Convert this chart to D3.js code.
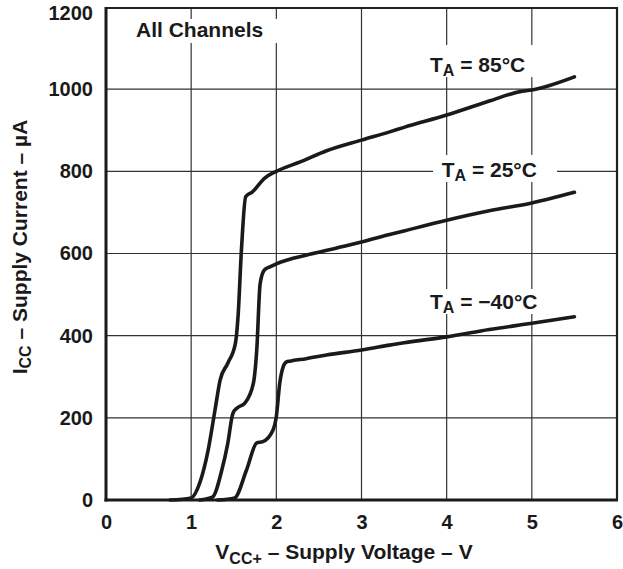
<!DOCTYPE html>
<html>
<head>
<meta charset="utf-8">
<script src="https://cdn.jsdelivr.net/npm/d3@7"></script>
<style>
  html, body { margin: 0; padding: 0; background: #fff; }
  svg { display: block; font-family: "Liberation Sans", Arial, Helvetica, sans-serif; font-weight: bold; }
</style>
</head>
<body>
<svg id="chart" width="623" height="569"></svg>
<script>
// ---- data ----
const xTicks = [0, 1, 2, 3, 4, 5, 6];
const yTicks = [0, 200, 400, 600, 800, 1000, 1200];

const v85 = [0.75, 1.0, 1.1, 1.2, 1.28, 1.34, 1.43, 1.52, 1.55, 1.59, 1.64, 1.72, 1.86, 2.0, 2.28, 2.59, 3.0, 3.33, 3.5, 4.0, 4.5, 4.86, 5.0, 5.5];
const i85 = [0, 5, 41, 122, 219, 292, 333, 382, 445, 608, 738, 750, 783, 800, 823, 850, 876, 896, 907, 937, 971, 994, 998, 1030];

const v25 = [1.1, 1.25, 1.36, 1.43, 1.49, 1.54, 1.63, 1.73, 1.77, 1.81, 1.86, 1.93, 2.0, 2.39, 2.7, 3.0, 3.33, 3.5, 4.0, 4.5, 5.0, 5.5];
const i25 = [0, 7, 73, 138, 211, 224, 236, 284, 365, 527, 560, 568, 575, 598, 613, 628, 646, 655, 681, 704, 723, 749];

const v40 = [1.31, 1.51, 1.65, 1.77, 1.84, 1.96, 2.0, 2.04, 2.08, 2.12, 2.16, 2.35, 2.59, 3.0, 3.33, 3.5, 4.0, 4.5, 5.0, 5.5];
const i40 = [0, 5, 73, 139, 142, 170, 203, 284, 324, 336, 338, 344, 353, 365, 377, 383, 397, 415, 430, 446];

const seriesNames = ["85°C", "25°C", "\u221240°C"];

// ---- layout ----
const svg = d3.select("#chart");
const pL = 106, pR = 617, pT = 7, pB = 500;
const x = d3.scaleLinear().domain([0, 6]).range([pL, pR]);
const y = d3.scaleLinear().domain([0, 1200]).range([pB, pT]);

// gridlines
const grid = svg.append("g").attr("stroke", "#333").attr("stroke-width", 1.2);
grid.selectAll("line.vx").data(xTicks.slice(1, -1)).join("line")
  .attr("x1", d => x(d)).attr("x2", d => x(d)).attr("y1", pT).attr("y2", pB);
grid.selectAll("line.hy").data(yTicks.slice(1, -1)).join("line")
  .attr("y1", d => y(d)).attr("y2", d => y(d)).attr("x1", pL).attr("x2", pR);

// label backgrounds (white boxes interrupting the grid)
const boxes = [
  [128, 19, 154, 24],
  [425, 45, 112, 32],
  [433, 155, 124, 27],
  [425, 289, 115, 25]
];
svg.append("g").selectAll("rect").data(boxes).join("rect")
  .attr("x", d => d[0]).attr("y", d => d[1]).attr("width", d => d[2]).attr("height", d => d[3])
  .attr("fill", "#fff");

// frame
svg.append("line").attr("x1", pL).attr("x2", pR).attr("y1", pT + 1).attr("y2", pT + 1)
  .attr("stroke", "#222").attr("stroke-width", 2.2);
svg.append("line").attr("x1", pR).attr("x2", pR).attr("y1", pT).attr("y2", pB)
  .attr("stroke", "#222").attr("stroke-width", 2.2);

// curves
const line = d3.line().x(d => x(d[0])).y(d => y(d[1])).curve(d3.curveMonotoneX);
const series = [d3.zip(v85, i85), d3.zip(v25, i25), d3.zip(v40, i40)];
svg.append("g").selectAll("path").data(series).join("path")
  .attr("d", line).attr("fill", "none").attr("stroke", "#1a1a1a")
  .attr("stroke-width", 3.6).attr("stroke-linejoin", "round").attr("stroke-linecap", "round");

// axes
const xAxis = svg.append("g").attr("transform", `translate(0,${pB})`)
  .call(d3.axisBottom(x).tickValues(xTicks).tickSize(0).tickPadding(15).tickFormat(d3.format("d")));
xAxis.select(".domain").remove();
xAxis.selectAll("text").attr("font-size", 20).attr("font-weight", "bold").attr("fill", "#1a1a1a")
  .attr("font-family", "Liberation Sans, Arial, sans-serif");

const yAxis = svg.append("g").attr("transform", `translate(${pL},0)`)
  .call(d3.axisLeft(y).tickValues(yTicks).tickSize(0).tickPadding(13).tickFormat(d3.format("d")));
yAxis.select(".domain").remove();
yAxis.selectAll("text").attr("font-size", 20).attr("font-weight", "bold").attr("fill", "#1a1a1a")
  .attr("font-family", "Liberation Sans, Arial, sans-serif")
  .filter(d => d === 1200).attr("dy", "0.62em");

// thick left & bottom axis lines
svg.append("line").attr("x1", pL).attr("x2", pL).attr("y1", pT).attr("y2", pB + 1.5)
  .attr("stroke", "#1a1a1a").attr("stroke-width", 3);
svg.append("line").attr("x1", pL - 1.5).attr("x2", pR + 1).attr("y1", pB).attr("y2", pB)
  .attr("stroke", "#1a1a1a").attr("stroke-width", 3);

// annotation text
const txt = svg.append("g").attr("fill", "#1a1a1a").attr("font-size", 21);
txt.append("text").attr("x", 136).attr("y", 37).text("All Channels");

const labelPos = [[430, 71.7], [441.7, 176.5], [430, 309.3]];
seriesNames.forEach((name, k) => {
  const t = txt.append("text").attr("x", labelPos[k][0]).attr("y", labelPos[k][1]);
  t.append("tspan").text("T");
  t.append("tspan").attr("font-size", 16).attr("dy", 4).text("A");
  t.append("tspan").attr("dy", -4).text(" = " + name);
});

// axis titles
const xt = svg.append("text").attr("x", 344).attr("y", 558.5).attr("text-anchor", "middle")
  .attr("font-size", 21).attr("fill", "#1a1a1a");
xt.append("tspan").text("V");
xt.append("tspan").attr("font-size", 16).attr("dy", 5).text("CC+");
xt.append("tspan").attr("dy", -5).text(" \u2013 Supply Voltage \u2013 V");

const yt = svg.append("text").attr("transform", "translate(27,247) rotate(-90)")
  .attr("text-anchor", "middle").attr("font-size", 21).attr("fill", "#1a1a1a");
yt.append("tspan").text("I");
yt.append("tspan").attr("font-size", 16).attr("dy", 4).text("CC");
yt.append("tspan").attr("dy", -4).text(" \u2013 Supply Current \u2013 \u00b5A");
</script>
</body>
</html>
